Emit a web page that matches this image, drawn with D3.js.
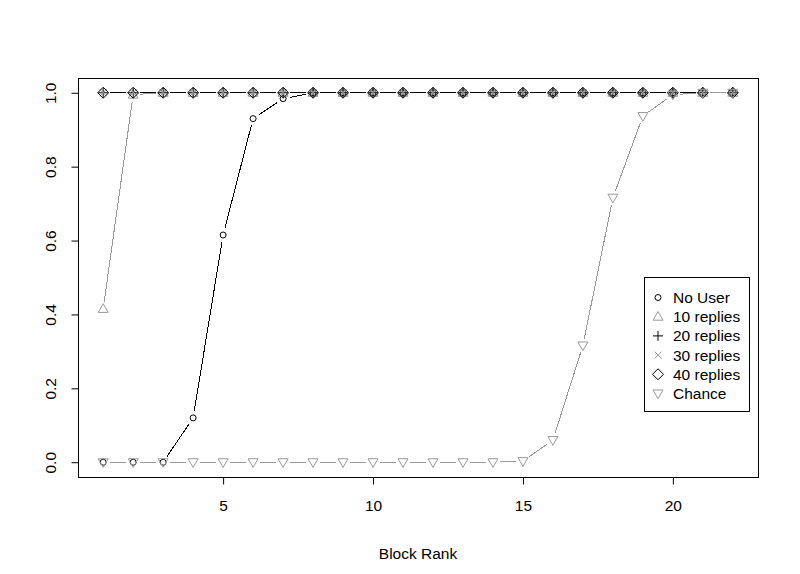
<!DOCTYPE html>
<html><head><meta charset="utf-8">
<script src="https://cdn.jsdelivr.net/npm/d3@7"></script>
<style>body{margin:0;background:#fff}svg{display:block;font-family:"Liberation Sans",Arial,sans-serif}</style>
</head><body><svg id="c" width="800" height="574"></svg>
<script>
const blockRank = d3.range(1, 23);
const noUser   = [0,0,0,0.12,0.615,0.93,0.984,1,1,1,1,1,1,1,1,1,1,1,1,1,1,1];
const replies10= [0.415,0.995,1,1,1,1,1,1,1,1,1,1,1,1,1,1,1,1,1,1,1,1];
const replies20= [1,1,1,1,1,1,1,1,1,1,1,1,1,1,1,1,1,1,1,1,1,1];
const replies30= [1,1,1,1,1,1,1,1,1,1,1,1,1,1,1,1,1,1,1,1,1,1];
const replies40= [1,1,1,1,1,1,1,1,1,1,1,1,1,1,1,1,1,1,1,1,1,1];
const chance   = [0,0,0,0,0,0,0,0,0,0,0,0,0,0,0.003,0.06,0.316,0.716,0.937,0.995,1,1];
const seriesNames = ["No User","10 replies","20 replies","30 replies","40 replies","Chance"];
const xTicks = [5,10,15,20];
const yTicks = [0,0.2,0.4,0.6,0.8,1.0];

const GRAY = "#9a9a9a";
const series = [
  {name:seriesNames[0], v:noUser,    color:"#000", shape:"circle"},
  {name:seriesNames[1], v:replies10, color:GRAY,   shape:"tri"},
  {name:seriesNames[2], v:replies20, color:"#000", shape:"plus"},
  {name:seriesNames[3], v:replies30, color:GRAY,   shape:"cross"},
  {name:seriesNames[4], v:replies40, color:"#000", shape:"diamond"},
  {name:seriesNames[5], v:chance,    color:GRAY,   shape:"dtri"}
];

const svg = d3.select("#c");
const L=78, R=758, T=78, B=477;
const FS = 15.5;
const x = d3.scaleLinear().domain([0.16,22.84]).range([L,R]);
const y = d3.scaleLinear().domain([-0.04,1.04]).range([B,T]);

function drawSym(g, shape, cx, cy, color){
  const s = 4.5;
  if(shape==="circle") g.append("circle").attr("cx",cx).attr("cy",cy).attr("r",3).attr("fill","none").attr("stroke",color);
  else if(shape==="tri") g.append("path").attr("d",`M${cx},${cy-5.2}L${cx+5},${cy+3.5}L${cx-5},${cy+3.5}Z`).attr("fill","none").attr("stroke",color);
  else if(shape==="dtri") g.append("path").attr("d",`M${cx},${cy+5.2}L${cx+5},${cy-3.5}L${cx-5},${cy-3.5}Z`).attr("fill","none").attr("stroke",color);
  else if(shape==="plus") g.append("path").attr("d",`M${cx-s-0.5},${cy}H${cx+s+0.5}M${cx},${cy-s-0.5}V${cy+s+0.5}`).attr("stroke",color);
  else if(shape==="cross") g.append("path").attr("d",`M${cx-3.5},${cy-3.5}L${cx+3.5},${cy+3.5}M${cx-3.5},${cy+3.5}L${cx+3.5},${cy-3.5}`).attr("stroke",color);
  else if(shape==="diamond") g.append("path").attr("d",`M${cx},${cy-5.5}L${cx+5.5},${cy}L${cx},${cy+5.5}L${cx-5.5},${cy}Z`).attr("fill","none").attr("stroke",color);
}

const plot = svg.append("g");
const GAP = 7;
series.forEach(s=>{
  const g = plot.append("g");
  const pts = s.v.map((v,i)=>[x(blockRank[i]), y(v)]);
  for(let i=0;i<pts.length-1;i++){
    const [x0,y0]=pts[i],[x1,y1]=pts[i+1];
    const d=Math.hypot(x1-x0,y1-y0);
    if(d>2*GAP){
      const ux=(x1-x0)/d, uy=(y1-y0)/d;
      g.append("line").attr("x1",x0+ux*GAP).attr("y1",y0+uy*GAP).attr("x2",x1-ux*GAP).attr("y2",y1-uy*GAP)
        .attr("stroke",s.color).attr("stroke-width",1).attr("shape-rendering","crispEdges");
    }
  }
  pts.forEach(p=>drawSym(g,s.shape,p[0],p[1],s.color));
});

// box
svg.append("rect").attr("x",L+0.5).attr("y",T+0.5).attr("width",R-L).attr("height",B-T).attr("fill","none").attr("stroke","#000");

// axes
const xa = svg.append("g").attr("transform",`translate(0,${B+0.5})`)
  .call(d3.axisBottom(x).tickValues(xTicks).tickSize(7).tickFormat(d3.format("d")));
xa.select(".domain").attr("d",`M${x(5)},0H${x(20)}`);
xa.selectAll("text").attr("font-size",FS).attr("fill","#000").attr("font-family","Liberation Sans, Arial, sans-serif")
  .attr("y",22).attr("dy","0.71em");
const ya = svg.append("g").attr("transform",`translate(${L+0.5},0)`)
  .call(d3.axisLeft(y).tickValues(yTicks).tickSize(7).tickFormat(d3.format(".1f")));
ya.select(".domain").attr("d",`M0,${y(0)}V${y(1)}`);
ya.selectAll("text").attr("font-size",FS).attr("fill","#000").attr("font-family","Liberation Sans, Arial, sans-serif")
  .attr("transform","rotate(-90)").attr("x",0).attr("y",-28).attr("dy","0.35em").attr("text-anchor","middle");

svg.append("text").attr("x",(L+R)/2).attr("y",559).attr("text-anchor","middle").attr("font-size",FS).text("Block Rank");

// legend
const lg = svg.append("g");
lg.append("rect").attr("x",644.5).attr("y",277.5).attr("width",105).attr("height",134).attr("fill","#fff").attr("stroke","#000");
series.forEach((s,i)=>{
  const cy = 297.5 + i*19.2;
  drawSym(lg,s.shape,658,cy,s.color);
  lg.append("text").attr("x",673).attr("y",cy).attr("dy","0.36em").attr("font-size",FS).text(s.name);
});
</script></body></html>
